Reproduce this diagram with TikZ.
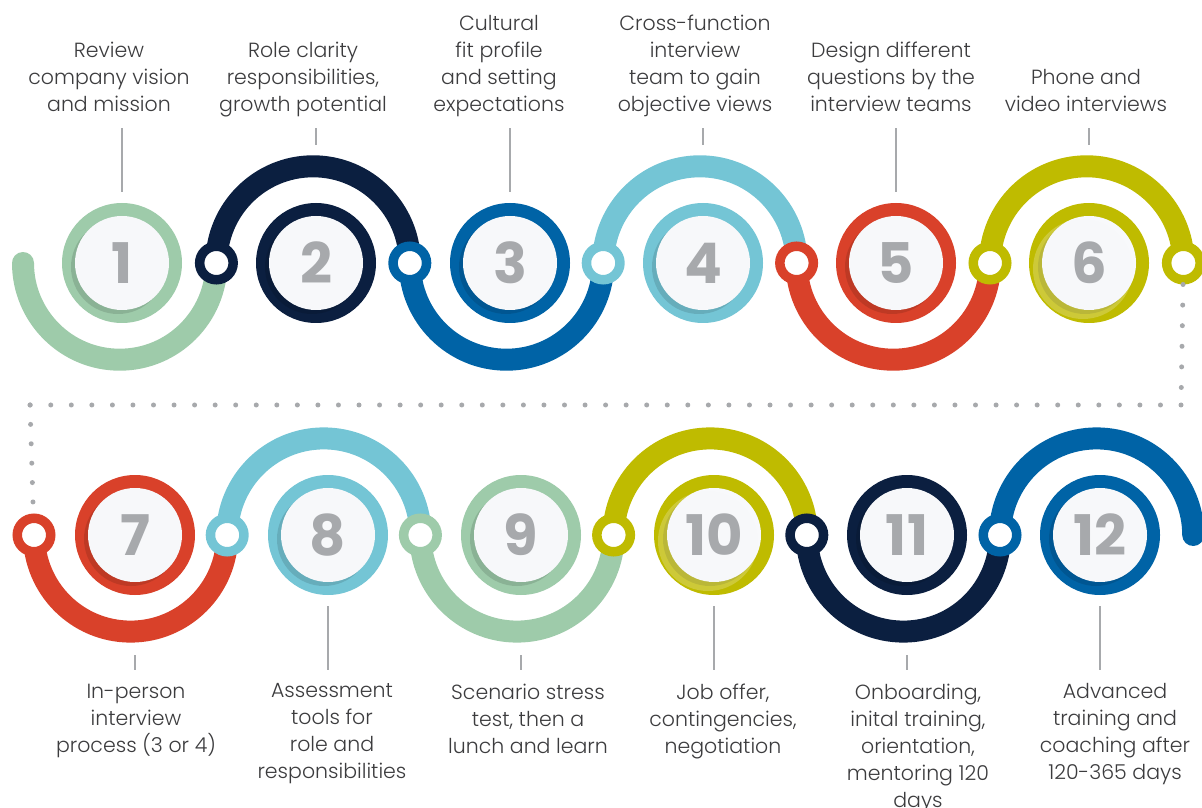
\documentclass[tikz,border=0pt]{standalone}
\usepackage{fontspec}
\usetikzlibrary{positioning}
\newfontfamily\labelfont{Poppins}[UprightFont=* Light]
\newfontfamily\numfont{Poppins}[UprightFont=* Bold]
\definecolor{sage}{HTML}{9ECBAA}
\definecolor{navy}{HTML}{0B1F40}
\definecolor{ocean}{HTML}{0063A6}
\definecolor{sky}{HTML}{74C5D5}
\definecolor{brick}{HTML}{D9412A}
\definecolor{mustard}{HTML}{BFBB00}
\definecolor{dotgray}{HTML}{A7A9AC}
\definecolor{ink}{HTML}{3C3C3E}
\definecolor{disc}{HTML}{F7F8FA}
% name, centre, colour, digit
\newcommand{\numring}[4]{%
	\fill[#3] (#2) circle (60);
	\fill[#3!60!black, opacity=.3, xshift=-4pt, yshift=-4pt] (#2) circle (47);
	\node[numdisc] (#1) at (#2) {#4};
}

\begin{document}
\begin{tikzpicture}[x=1pt, y=1pt,
	arcline/.style={line width=22pt, line cap=round},
	joint/.style={circle, fill=white, draw=#1, line width=9.5pt, minimum size=33.5pt, inner sep=0pt},
	numdisc/.style={circle, fill=disc, minimum size=94pt, inner sep=0pt, text=dotgray, font=\numfont\fontsize{56}{56}\selectfont},
	tick/.style={dotgray, line width=2pt},
	dots/.style={dotgray, line width=5pt, line cap=round, dash pattern=on 0pt off #1},
	toplabel/.style={anchor=south, align=center, inner sep=0pt, text=ink, font=\labelfont\fontsize{20.5}{27}\selectfont, execute at end node=\strut},
	botlabel/.style={toplabel, anchor=north, execute at begin node=\strut}]
	\useasboundingbox (0,0) rectangle (1202,807);

	\coordinate (t0) at (23,544);
	\coordinate (t1) at (216.4,544);
	\coordinate (t2) at (409.8,544);
	\coordinate (t3) at (603.2,544);
	\coordinate (t4) at (796.6,544);
	\coordinate (t5) at (990,544);
	\coordinate (t6) at (1183.4,544);
	\coordinate (b0) at (34,272);
	\coordinate (b1) at (227.2,272);
	\coordinate (b2) at (420.4,272);
	\coordinate (b3) at (613.6,272);
	\coordinate (b4) at (806.8,272);
	\coordinate (b5) at (1000,272);

	\draw[arcline, sage] (t0) arc[start angle=180, end angle=360, radius=96.7];
	\draw[arcline, navy] (t1) arc[start angle=180, end angle=0, radius=96.7];
	\draw[arcline, ocean] (t2) arc[start angle=180, end angle=360, radius=96.7];
	\draw[arcline, sky] (t3) arc[start angle=180, end angle=0, radius=96.7];
	\draw[arcline, brick] (t4) arc[start angle=180, end angle=360, radius=96.7];
	\draw[arcline, mustard] (t5) arc[start angle=180, end angle=0, radius=96.7];

	\draw[arcline, brick] (b0) arc[start angle=180, end angle=360, radius=96.6];
	\draw[arcline, sky] (b1) arc[start angle=180, end angle=0, radius=96.6];
	\draw[arcline, sage] (b2) arc[start angle=180, end angle=360, radius=96.6];
	\draw[arcline, mustard] (b3) arc[start angle=180, end angle=0, radius=96.6];
	\draw[arcline, navy] (b4) arc[start angle=180, end angle=360, radius=96.6];
	\draw[arcline, ocean] (b5) arc[start angle=180, end angle=0, radius=96.6];

	\node[joint=navy] (j1) at (t1) {};
	\node[joint=ocean] (j2) at (t2) {};
	\node[joint=sky] (j3) at (t3) {};
	\node[joint=brick] (j4) at (t4) {};
	\node[joint=mustard] (j5) at (t5) {};
	\node[joint=mustard] (j6) at (t6) {};
	\node[joint=brick] (j7) at (b0) {};
	\node[joint=sky] (j8) at (b1) {};
	\node[joint=sage] (j9) at (b2) {};
	\node[joint=mustard] (j10) at (b3) {};
	\node[joint=navy] (j11) at (b4) {};
	\node[joint=ocean] (j12) at (b5) {};

	\coordinate (turnR) at (1181,402);
	\coordinate (turnL) at (30,402);
	\draw[dots=20.6pt] ([xshift=-2pt, yshift=-39pt]j6) -- (turnR);
	\draw[dots=20.55pt] (turnR) -- (turnL);
	\draw[dots=19.4pt] (turnL) -- ([xshift=-4pt, yshift=33pt]j7);

	\numring{n1}{122,544}{sage}{1}
	\numring{n2}{316,544}{navy}{2}
	\numring{n3}{510,544}{ocean}{3}
	\numring{n4}{703,544}{sky}{4}
	\numring{n5}{896,544}{brick}{5}
	\numring{n6}{1089,544}{mustard}{6}
	\numring{n7}{135,272}{brick}{7}
	\numring{n8}{328,272}{sky}{8}
	\numring{n9}{521,272}{sage}{9}
	\numring{n10}{714,272}{mustard}{10}
	\numring{n11}{907,272}{navy}{11}
	\numring{n12}{1100,272}{ocean}{12}
	\fill[white, opacity=.22, even odd rule] ([shift={(-6pt,-6pt)}]n6.center) circle (50) (n6.center) circle (47);
	\fill[white, opacity=.22, even odd rule] ([shift={(-6pt,-6pt)}]n10.center) circle (50) (n10.center) circle (47);

	\draw[tick] ([yshift=24pt]n1.north) -- ([yshift=88pt]n1.north);
	\draw[tick] ([yshift=71pt]n2.north) -- ([yshift=88pt]n2.north);
	\draw[tick] ([yshift=24pt]n3.north) -- ([yshift=88pt]n3.north);
	\draw[tick] ([yshift=71pt]n4.north) -- ([yshift=88pt]n4.north);
	\draw[tick] ([yshift=24pt]n5.north) -- ([yshift=88pt]n5.north);
	\draw[tick] ([yshift=71pt]n6.north) -- ([yshift=88pt]n6.north);
	\draw[tick] ([yshift=-73pt]n7.south) -- ([yshift=-88pt]n7.south);
	\draw[tick] ([yshift=-24pt]n8.south) -- ([yshift=-88pt]n8.south);
	\draw[tick] ([yshift=-73pt]n9.south) -- ([yshift=-88pt]n9.south);
	\draw[tick] ([yshift=-24pt]n10.south) -- ([yshift=-88pt]n10.south);
	\draw[tick] ([yshift=-73pt]n11.south) -- ([yshift=-88pt]n11.south);
	\draw[tick] ([yshift=-24pt]n12.south) -- ([yshift=-88pt]n12.south);

	\node[toplabel] (l1) at (109,687) {Review\\company vision\\and mission};
	\node[toplabel] (l2) at (303,687) {Role clarity\\responsibilities,\\growth potential};
	\node[toplabel] (l3) at (499,687) {Cultural\\fit profile\\and setting\\expectations};
	\node[toplabel] (l4) at (695,687) {Cross-function\\interview\\team to gain\\objective views};
	\node[toplabel] (l5) at (891,687) {Design different\\questions by the\\interview teams};
	\node[toplabel] (l6) at (1086,687) {Phone and\\video interviews};
	\node[botlabel] (l7) at (136,123.5) {In-person\\interview\\process (3 or 4)};
	\node[botlabel] (l8) at (332,123.5) {Assessment\\tools for\\role and\\responsibilities};
	\node[botlabel] (l9) at (528,123.5) {Scenario stress\\test, then a\\lunch and learn};
	\node[botlabel] (l10) at (723,123.5) {Job offer,\\contingencies,\\negotiation};
	\node[botlabel] (l11) at (918,123.5) {Onboarding,\\inital training,\\orientation,\\mentoring 120\\days};
	\node[botlabel] (l12) at (1115,123.5) {Advanced\\training and\\coaching after\\120-365 days};
\end{tikzpicture}
\end{document}
